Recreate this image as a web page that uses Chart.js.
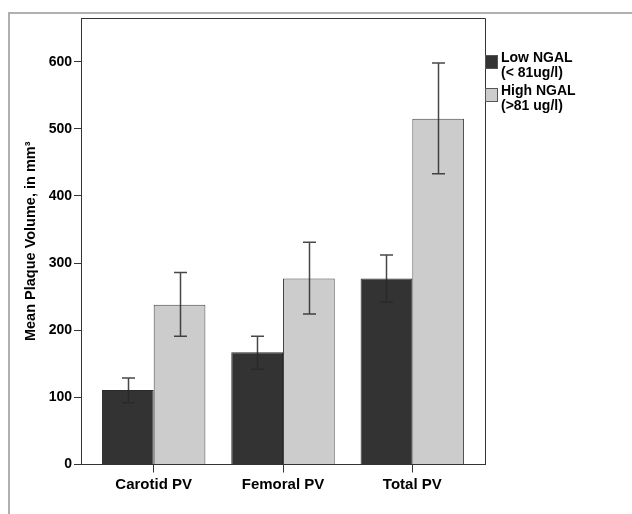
<!DOCTYPE html>
<html>
<head>
<meta charset="utf-8">
<script src="https://cdn.jsdelivr.net/npm/chart.js@4.4.1/dist/chart.umd.min.js"></script>
<style>
  body { margin: 0; background: #fff; }
  #wrap { position: relative; width: 632px; height: 514px; }
</style>
</head>
<body>
<div id="wrap"><canvas id="grafico" width="632" height="514"></canvas></div>
<script>
const categorias = ['Carotid PV', 'Femoral PV', 'Total PV'];
const etiquetasSerie = [['Low NGAL', '(< 81ug/l)'], ['High NGAL', '(>81 ug/l)']];
const lowNgal = [111, 167, 277];
const lowNgalMin = [92, 142, 242];
const lowNgalMax = [129, 191, 312];
const highNgal = [238, 277, 515];
const highNgalMin = [191, 224, 433];
const highNgalMax = [286, 331, 598];
const ticksY = [0, 100, 200, 300, 400, 500, 600];

const fuente = '"Liberation Sans", Arial, sans-serif';

function puntos(valores) {
    return valores.map((v, i) => ({ x: i, y: v }));
}

// barras de error y marco del grafico
const extras = {
    id: 'extras',
    beforeDraw(chart) {
        const ctx = chart.ctx;
        ctx.save();
        ctx.strokeStyle = '#b0b0b0';
        ctx.lineWidth = 2;
        ctx.beginPath();
        ctx.moveTo(9, 514);
        ctx.lineTo(9, 13);
        ctx.lineTo(632, 13);
        ctx.stroke();
        ctx.restore();
    },
    afterDatasetsDraw(chart) {
        const ctx = chart.ctx;
        const y = chart.scales.y;
        const rangos = [[lowNgalMin, lowNgalMax], [highNgalMin, highNgalMax]];
        ctx.save();
        ctx.strokeStyle = 'rgba(40,40,40,0.85)';
        ctx.lineWidth = 1.5;
        chart.data.datasets.forEach((ds, d) => {
            const meta = chart.getDatasetMeta(d);
            meta.data.forEach((bar, i) => {
                const y1 = y.getPixelForValue(rangos[d][0][i]);
                const y2 = y.getPixelForValue(rangos[d][1][i]);
                const x = Math.round(bar.x) + 0.5;
                ctx.beginPath();
                ctx.moveTo(x, y1); ctx.lineTo(x, y2);
                ctx.moveTo(x - 6.5, y1); ctx.lineTo(x + 6.5, y1);
                ctx.moveTo(x - 6.5, y2); ctx.lineTo(x + 6.5, y2);
                ctx.stroke();
            });
        });
        ctx.restore();
    },
    afterDraw(chart) {
        const ctx = chart.ctx;
        const a = chart.chartArea;
        ctx.save();
        ctx.strokeStyle = '#333';
        ctx.lineWidth = 1;
        ctx.beginPath();
        ctx.moveTo(a.left, a.top + 0.5);
        ctx.lineTo(a.right + 0.5, a.top + 0.5);
        ctx.lineTo(a.right + 0.5, a.bottom);
        ctx.stroke();

        // leyenda
        ctx.font = 'bold 14px ' + fuente;
        ctx.textBaseline = 'middle';
        ctx.textAlign = 'left';
        chart.data.datasets.forEach((ds, d) => {
            const top = a.top + 37 + d * 33;
            ctx.fillStyle = ds.backgroundColor;
            ctx.fillRect(a.right, top, 13, 14);
            ctx.strokeStyle = '#555';
            ctx.strokeRect(a.right + 0.5, top + 0.5, 12, 13);
            ctx.fillStyle = '#000';
            etiquetasSerie[d].forEach((t, k) => {
                ctx.fillText(t, a.right + 16, top + 3 + k * 15);
            });
        });
        ctx.restore();
    }
};

new Chart(document.getElementById('grafico'), {
    type: 'bar',
    data: {
        datasets: [
            {
                label: etiquetasSerie[0].join(' '),
                data: puntos(lowNgal),
                backgroundColor: '#333333',
                borderColor: '#2a2a2a',
                borderWidth: 1
            },
            {
                label: etiquetasSerie[1].join(' '),
                data: puntos(highNgal),
                backgroundColor: '#cccccc',
                borderColor: '#444444',
                borderWidth: 1
            }
        ]
    },
    options: {
        responsive: false,
        animation: false,
        categoryPercentage: 0.8,
        barPercentage: 1.0,
        layout: { padding: { top: 18, right: 147, left: 0, bottom: 0 } },
        plugins: { legend: { display: false }, tooltip: { enabled: false } },
        scales: {
            x: {
                type: 'linear',
                min: -0.562,
                max: 2.562,
                offset: false,
                afterFit: s => { s.height = 49.5; },
                grid: { display: true, drawOnChartArea: false, offset: false, tickLength: 8, color: '#333' },
                border: { display: true, color: '#333', width: 1 },
                ticks: {
                    stepSize: 1,
                    includeBounds: false,
                    padding: 3,
                    color: '#000',
                    font: { family: fuente, size: 15, weight: 'bold' },
                    callback: v => categorias[v]
                }
            },
            y: {
                min: 0,
                max: 665,
                afterFit: s => { s.width = 81; },
                afterBuildTicks: s => { s.ticks = ticksY.map(v => ({ value: v })); },
                grid: { display: true, drawOnChartArea: false, tickLength: 7, color: '#333' },
                border: { display: true, color: '#333', width: 1 },
                ticks: {
                    padding: 2,
                    color: '#000',
                    font: { family: fuente, size: 14, weight: 'bold' }
                },
                title: {
                    display: true,
                    text: 'Mean Plaque Volume, in mm³',
                    color: '#000',
                    padding: { top: 22, bottom: 0 },
                    font: { family: fuente, size: 14.5, weight: 'bold' }
                }
            }
        }
    },
    plugins: [extras]
});
</script>
</body>
</html>
